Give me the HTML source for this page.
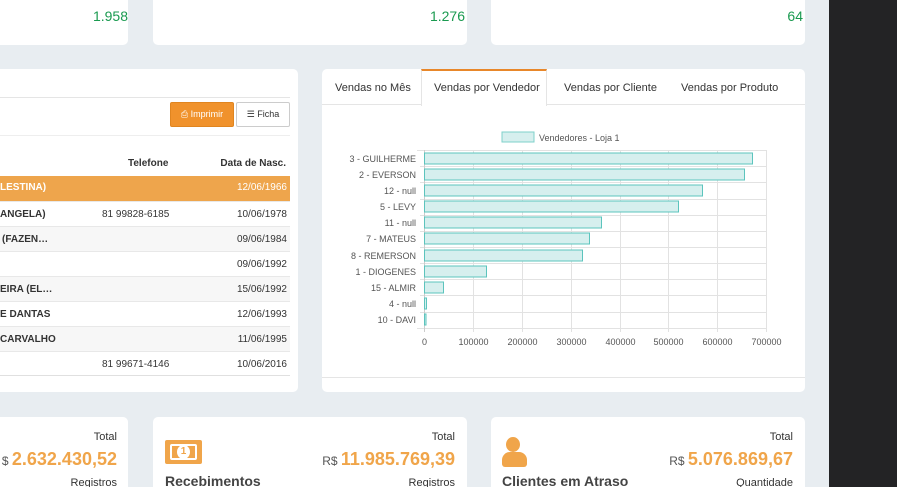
<!DOCTYPE html>
<html><head><meta charset="utf-8"><style>
*{box-sizing:border-box;margin:0;padding:0}
html,body{width:897px;height:487px;overflow:hidden}
body{background:#e8edf1;font-family:"Liberation Sans",sans-serif;position:relative;color:#333}
.card{position:absolute;background:#fff;border-radius:5px}
.a{position:absolute;white-space:nowrap}
.g{color:#1a9a50;font-size:14px}
.o{color:#f0a54a;font-weight:bold;font-size:18px}
.sm{font-size:11px;color:#333}
.row{position:absolute;left:0;width:290px;height:25px;font-size:10px;font-weight:bold;border-top:1px solid #e8e8e8}
</style></head><body>
<div style="position:absolute;left:829px;top:0;width:68px;height:487px;background:#232325"></div>
<div class="card" style="left:-10px;top:-10px;width:138px;height:55px"></div>
<div class="card" style="left:153px;top:-10px;width:314px;height:55px"></div>
<div class="card" style="left:491px;top:-10px;width:314px;height:55px"></div>
<div class="a g" style="right:769px;top:8px">1.958</div>
<div class="a g" style="right:432px;top:8px">1.276</div>
<div class="a g" style="right:94px;top:8px">64</div>

<div class="card" style="left:-10px;top:69px;width:308px;height:323px"></div>
<div style="position:absolute;left:0;top:97px;width:290px;border-top:1px solid #e5e5e5"></div>
<div style="position:absolute;left:170px;top:102px;width:64px;height:25px;background:#f0922c;border:1px solid #e08520;border-radius:2px;color:#fff;font-size:9px;text-align:center;line-height:23px">⎙ Imprimir</div>
<div style="position:absolute;left:236px;top:102px;width:54px;height:25px;background:#fff;border:1px solid #ccc;border-radius:2px;font-size:9px;text-align:center;line-height:23px">☰ Ficha</div>
<div style="position:absolute;left:0;top:135px;width:290px;border-top:1px solid #eee"></div>
<div class="a" style="left:128px;top:158px;font-size:10px;font-weight:bold">Telefone</div>
<div class="a" style="right:611px;top:158px;font-size:10px;font-weight:bold">Data de Nasc.</div>
<div class="row" style="top:176px;background:#eea54c;color:#fff;border:none"><span class="a" style="left:0;top:6px">LESTINA)</span><span class="a" style="right:3px;top:6px;font-weight:normal">12/06/1966</span></div>
<div class="row" style="top:201px"><span class="a" style="left:0;top:7px">ANGELA)</span><span class="a" style="left:102px;top:7px;font-weight:normal">81 99828-6185</span><span class="a" style="right:3px;top:7px;font-weight:normal">10/06/1978</span></div>
<div class="row" style="top:226px;background:#f7f7f7"><span class="a" style="left:2px;top:7px">(FAZEN…</span><span class="a" style="right:3px;top:7px;font-weight:normal">09/06/1984</span></div>
<div class="row" style="top:251px"><span class="a" style="right:3px;top:7px;font-weight:normal">09/06/1992</span></div>
<div class="row" style="top:276px;background:#f7f7f7"><span class="a" style="left:0;top:7px">EIRA (EL…</span><span class="a" style="right:3px;top:7px;font-weight:normal">15/06/1992</span></div>
<div class="row" style="top:301px"><span class="a" style="left:0;top:7px">E DANTAS</span><span class="a" style="right:3px;top:7px;font-weight:normal">12/06/1993</span></div>
<div class="row" style="top:326px;background:#f7f7f7"><span class="a" style="left:0;top:7px">CARVALHO</span><span class="a" style="right:3px;top:7px;font-weight:normal">11/06/1995</span></div>
<div class="row" style="top:351px;border-bottom:1px solid #e0e0e0"><span class="a" style="left:102px;top:7px;font-weight:normal">81 99671-4146</span><span class="a" style="right:3px;top:7px;font-weight:normal">10/06/2016</span></div>

<div class="card" style="left:322px;top:69px;width:483px;height:323px"></div>
<div style="position:absolute;left:322px;top:104px;width:483px;border-top:1px solid #e5e5e5"></div>
<div style="position:absolute;left:421px;top:69px;width:126px;height:37px;background:#fff;border-top:2px solid #e8872a;border-left:1px solid #e5e5e5;border-right:1px solid #e5e5e5"></div>
<div class="a sm" style="left:335px;top:82px">Vendas no Mês</div>
<div class="a sm" style="left:434px;top:82px">Vendas por Vendedor</div>
<div class="a sm" style="left:564px;top:82px">Vendas por Cliente</div>
<div class="a sm" style="left:681px;top:82px">Vendas por Produto</div>
<div style="position:absolute;left:322px;top:377px;width:483px;border-top:1px solid #e5e5e5"></div>
<svg style="position:absolute;left:0;top:0" width="897" height="487" font-family="Liberation Sans,sans-serif" font-size="9" fill="#555">
<rect x="502" y="132" width="32" height="10" fill="#d6efee" stroke="#7fd0cb"/>
<text x="539" y="141">Vendedores - Loja 1</text>
<g stroke="#e2e2e2" stroke-width="1">
<line x1="424.5" y1="150" x2="424.5" y2="332"/><line x1="473.5" y1="150" x2="473.5" y2="332"/><line x1="522.5" y1="150" x2="522.5" y2="332"/><line x1="571.5" y1="150" x2="571.5" y2="332"/><line x1="620.5" y1="150" x2="620.5" y2="332"/><line x1="668.5" y1="150" x2="668.5" y2="332"/><line x1="717.5" y1="150" x2="717.5" y2="332"/><line x1="766.5" y1="150" x2="766.5" y2="332"/>
<line x1="417" y1="150.5" x2="766" y2="150.5"/><line x1="420" y1="166.5" x2="766" y2="166.5"/><line x1="420" y1="182.5" x2="766" y2="182.5"/><line x1="420" y1="199.5" x2="766" y2="199.5"/><line x1="420" y1="215.5" x2="766" y2="215.5"/><line x1="420" y1="231.5" x2="766" y2="231.5"/><line x1="420" y1="247.5" x2="766" y2="247.5"/><line x1="420" y1="263.5" x2="766" y2="263.5"/><line x1="420" y1="279.5" x2="766" y2="279.5"/><line x1="420" y1="295.5" x2="766" y2="295.5"/><line x1="420" y1="312.5" x2="766" y2="312.5"/><line x1="417" y1="328.5" x2="766" y2="328.5"/>
</g>
<line x1="424.5" y1="150" x2="424.5" y2="332" stroke="#ccc"/>
<g fill="#d6efee" stroke="#5cc4bd">
<rect x="424.5" y="153" width="328" height="11"/><rect x="424.5" y="169" width="320" height="11"/><rect x="424.5" y="185" width="278" height="11"/><rect x="424.5" y="201" width="254" height="11"/><rect x="424.5" y="217" width="177" height="11"/><rect x="424.5" y="233" width="165" height="11"/><rect x="424.5" y="250" width="158" height="11"/><rect x="424.5" y="266" width="62" height="11"/><rect x="424.5" y="282" width="19" height="11"/><rect x="424.5" y="298" width="2" height="11"/><rect x="424.5" y="314" width="1.5" height="11"/>
</g>
<g text-anchor="end">
<text x="416" y="162">3 - GUILHERME</text><text x="416" y="178">2 - EVERSON</text><text x="416" y="194">12 - null</text><text x="416" y="210">5 - LEVY</text><text x="416" y="226">11 - null</text><text x="416" y="242">7 - MATEUS</text><text x="416" y="259">8 - REMERSON</text><text x="416" y="275">1 - DIOGENES</text><text x="416" y="291">15 - ALMIR</text><text x="416" y="307">4 - null</text><text x="416" y="323">10 - DAVI</text>
</g>
<g text-anchor="middle">
<text x="424.5" y="345">0</text><text x="473.5" y="345">100000</text><text x="522.5" y="345">200000</text><text x="571.5" y="345">300000</text><text x="620.5" y="345">400000</text><text x="668.5" y="345">500000</text><text x="717.5" y="345">600000</text><text x="766.5" y="345">700000</text>
</g>
</svg>

<div class="card" style="left:-10px;top:417px;width:138px;height:70px;border-radius:5px 5px 0 0"></div>
<div class="card" style="left:153px;top:417px;width:314px;height:70px;border-radius:5px 5px 0 0"></div>
<div class="card" style="left:491px;top:417px;width:314px;height:70px;border-radius:5px 5px 0 0"></div>
<div class="a sm" style="right:780px;top:431px">Total</div>
<div class="a sm" style="right:442px;top:431px">Total</div>
<div class="a sm" style="right:104px;top:431px">Total</div>
<div class="a" style="right:780px;top:449px"><span style="font-size:12px;color:#555">$ </span><span class="o">2.632.430,52</span></div>
<div class="a" style="right:442px;top:449px"><span style="font-size:12px;color:#555">R$ </span><span class="o">11.985.769,39</span></div>
<div class="a" style="right:104px;top:449px"><span style="font-size:12px;color:#555">R$ </span><span class="o">5.076.869,67</span></div>
<div class="a sm" style="right:780px;top:477px">Registros</div>
<div class="a sm" style="right:442px;top:477px">Registros</div>
<div class="a sm" style="right:104px;top:477px">Quantidade</div>
<div style="position:absolute;left:165px;top:440px;width:37px;height:24px;background:#f0a54a;border-radius:2px"><div style="position:absolute;left:5px;top:4px;width:27px;height:16px;border:2px solid #fff;border-radius:2px"></div><div style="position:absolute;left:12px;top:5px;width:13px;height:14px;background:#fff;border-radius:50%;color:#f0a54a;font-size:10px;font-weight:bold;text-align:center;line-height:14px">1</div></div>
<div style="position:absolute;left:506px;top:437px;width:14px;height:15px;background:#f0a54a;border-radius:50%"></div>
<div style="position:absolute;left:502px;top:452px;width:25px;height:15px;background:#f0a54a;border-radius:8px 8px 3px 3px"></div>
<div class="a" style="left:165px;top:473px;font-size:14px;font-weight:bold;color:#444">Recebimentos</div>
<div class="a" style="left:502px;top:473px;font-size:14px;font-weight:bold;color:#444">Clientes em Atraso</div>
</body></html>
